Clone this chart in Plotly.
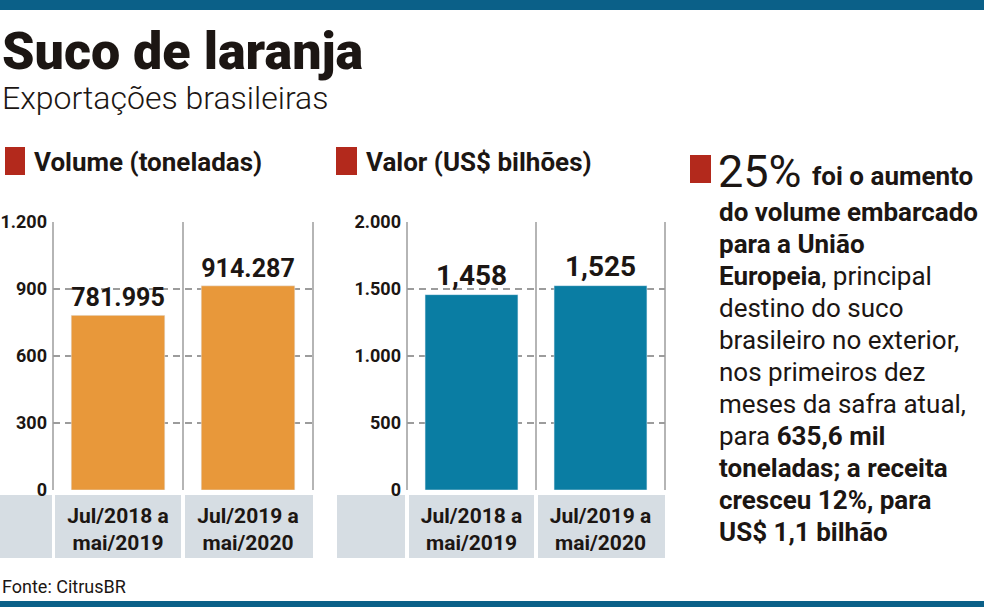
import plotly.graph_objects as go

# dados
periodos = ["Jul/2018 a<br>mai/2019", "Jul/2019 a<br>mai/2020"]
volume_mil_t = [781.995, 914.287]          # mil toneladas
valor_bi = [1.458, 1.525]                  # US$ bilhoes
volume_ticks = [0, 300, 600, 900, 1200]
volume_ticktext = ["0", "300", "600", "900", "1.200"]
valor_tickvals = [0, 0.5, 1.0, 1.5, 2.0]
valor_ticktext = ["0", "500", "1.000", "1.500", "2.000"]
texto_linhas = [
    "<b>do volume embarcado</b>",
    "<b>para a União</b>",
    "<b>Europeia</b>, principal",
    "destino do suco",
    "brasileiro no exterior,",
    "nos primeiros dez",
    "meses da safra atual,",
    "para <b>635,6 mil</b>",
    "<b>toneladas; a receita</b>",
    "<b>cresceu 12%, para</b>",
    "<b>US$ 1,1 bilhão</b>",
]

W, H = 984, 607
BLUE_TOP = "#0b6088"
ORANGE = "#e8983a"
TEAL = "#0a7da3"
RED = "#b3291c"
BAND = "#d6dde3"
GRID = "#9c9c9c"
FONT = "Roboto, Lato, sans-serif"
INK = "#1c1613"


def px(x):
    return x / W


def py(y):
    return 1 - y / H


fig = go.Figure()

fig.add_trace(go.Bar(
    x=periodos, y=volume_mil_t, marker_color=ORANGE, width=0.72,
    text=[f"{v:.3f}" for v in volume_mil_t], textposition="outside",
    textfont=dict(family=FONT, size=28, color=INK, weight="bold"), cliponaxis=False,
    xaxis="x", yaxis="y", hoverinfo="skip"))

fig.add_trace(go.Bar(
    x=periodos, y=valor_bi, marker_color=TEAL, width=0.72,
    text=[f"{v:.3f}".replace(".", ",") for v in valor_bi], textposition="outside",
    textfont=dict(family=FONT, size=28, color=INK, weight="bold"), cliponaxis=False,
    xaxis="x2", yaxis="y2", hoverinfo="skip"))

ydom = [py(490), py(222)]
xaxis_common = dict(type="category", showgrid=False, ticks="", showline=False,
                    zeroline=False, automargin=False,
                    tickfont=dict(family=FONT, size=21, color=INK, weight="bold"),
                    ticklabelstandoff=11, fixedrange=True)
yaxis_common = dict(domain=ydom, showgrid=True, gridcolor=GRID, gridwidth=1.5,
                    griddash="7px,5px", zeroline=False, showline=False, ticks="",
                    automargin=False,
                    tickfont=dict(family=FONT, size=18, color=INK, weight="bold"),
                    ticklabelstandoff=5, fixedrange=True)

fig.update_layout(
    width=W, height=H, margin=dict(l=0, r=0, t=0, b=0, autoexpand=False),
    paper_bgcolor="white", plot_bgcolor="white", showlegend=False,
    xaxis=dict(domain=[px(53), px(313)], anchor="y", **xaxis_common),
    yaxis=dict(anchor="x", range=[0, 1200], tickvals=volume_ticks,
               ticktext=volume_ticktext, **yaxis_common),
    xaxis2=dict(domain=[px(407), px(665)], anchor="y2", **xaxis_common),
    yaxis2=dict(anchor="x2", range=[0, 2.0], tickvals=valor_tickvals,
                ticktext=valor_ticktext, **yaxis_common),
)

shapes = []
# barras azuis topo e base
shapes.append(dict(type="rect", xref="paper", yref="paper", x0=0, x1=1,
                   y0=py(10), y1=1, fillcolor=BLUE_TOP, line_width=0, layer="below"))
shapes.append(dict(type="rect", xref="paper", yref="paper", x0=0, x1=1,
                   y0=0, y1=py(601), fillcolor=BLUE_TOP, line_width=0, layer="below"))
# faixas cinzas sob os graficos
for x0, x1 in [(0, 52), (55, 181), (185, 313), (337, 405), (409, 534), (538, 665)]:
    shapes.append(dict(type="rect", xref="paper", yref="paper", x0=px(x0), x1=px(x1),
                       y0=py(558), y1=py(495), fillcolor=BAND, line_width=0, layer="below"))
# separadores verticais
for xr, yr in [("x domain", "y domain"), ("x2 domain", "y2 domain")]:
    for xv in [0, 0.5, 1]:
        shapes.append(dict(type="line", xref=xr, yref=yr, x0=xv, x1=xv, y0=0, y1=1,
                           line=dict(color=GRID, width=1.5), layer="below"))
# quadrados vermelhos
for x0, x1, y0, y1 in [(5, 25, 147, 175), (336, 357, 147, 175), (690, 711, 155, 183)]:
    shapes.append(dict(type="rect", xref="paper", yref="paper", x0=px(x0), x1=px(x1),
                       y0=py(y1), y1=py(y0), fillcolor=RED, line_width=0))
fig.update_layout(shapes=shapes)

ann = [
    dict(text="Suco de laranja", x=px(0), y=py(52),
         font=dict(size=52, family=FONT, weight=900)),
    dict(text="Exportações brasileiras", x=px(0), y=py(98),
         font=dict(size=32, family=FONT, weight=300)),
    dict(text="<b>Volume (toneladas)</b>", x=px(32), y=py(162), font=dict(size=26, family=FONT)),
    dict(text="<b>Valor (US$ bilhões)</b>", x=px(364), y=py(162), font=dict(size=26, family=FONT)),
    dict(text="25%", x=px(716), y=py(171), font=dict(size=45, family=FONT)),
    dict(text="<b>foi o aumento</b>", x=px(810), y=py(176), font=dict(size=26, family=FONT)),
    dict(text="Fonte: CitrusBR", x=px(0), y=py(586), font=dict(size=18, family=FONT)),
]
for i, linha in enumerate(texto_linhas):
    ann.append(dict(text=linha, x=px(717), y=py(212 + 32 * i),
                    font=dict(size=26, family=FONT)))
for a in ann:
    a.setdefault("xanchor", "left")
    a.setdefault("yanchor", "middle")
    a["align"] = "left"
    a["xref"] = "paper"
    a["yref"] = "paper"
    a["showarrow"] = False
    a["font"]["color"] = INK
fig.update_layout(annotations=ann)

fig.write_html("out.html", config={"displayModeBar": False},
               post_script="document.body.style.margin='0';")
